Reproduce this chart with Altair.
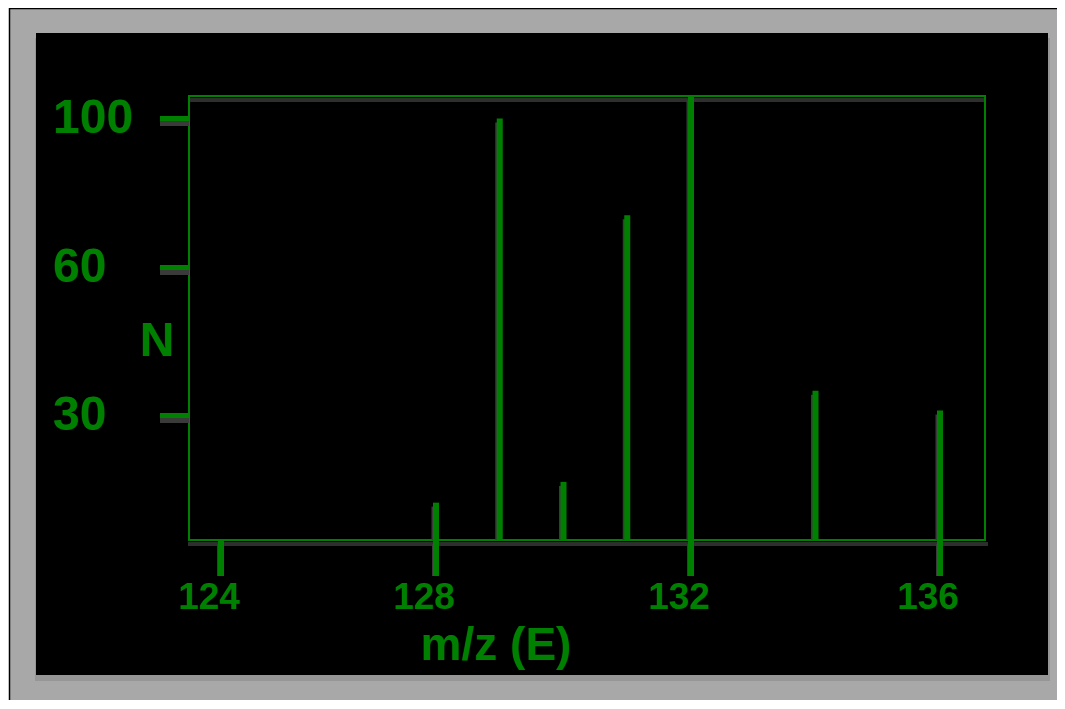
import altair as alt
import pandas as pd

# ---- data ----
mz = [128, 129, 130, 131, 132, 134, 136]
intensity = [9, 100, 14, 74, 106, 35, 31]
x_ticks = [124, 128, 132, 136]
x_tick_labels = ["124", "128", "132", "136"]
y_ticks = [30, 60, 100]
y_tick_labels = ["30", "60", "100"]

GREEN = "#008000"
SHADOW = "#3a3a3a"
FONT = "Liberation Sans"

peaks = pd.DataFrame({"mz": mz, "N": intensity})
xt = pd.DataFrame({"tick": x_ticks, "label": x_tick_labels})
yt = pd.DataFrame({"tick": y_ticks, "label": y_tick_labels})
one = pd.DataFrame({"k": [0]})

W, H = 796, 444
xscale = alt.Scale(domain=[124, 128, 132, 136], range=[32, 247, 502, 751])
yscale = alt.Scale(domain=[0, 30, 60, 100], range=[H, 319.5, 171.5, 22.5])

X = lambda f: alt.X(f, type="quantitative", scale=xscale, axis=None)
Y = lambda f: alt.Y(f, type="quantitative", scale=yscale, axis=None)

base_one = alt.Chart(one)

outer = base_one.mark_rect(fill="#a8a8a8", stroke="#000000", strokeWidth=1.5).encode(
    x=alt.value(-179.5), x2=alt.value(881), y=alt.value(-87.5), y2=alt.value(611.5))
outer_shadow = base_one.mark_rect(fill="#969696").encode(
    x=alt.value(-154), x2=alt.value(861), y=alt.value(-58), y2=alt.value(585))
inner = base_one.mark_rect(fill="#000000").encode(
    x=alt.value(-153), x2=alt.value(859), y=alt.value(-63), y2=alt.value(579))

box_shadow_top = base_one.mark_rule(color="#2e2e2e", strokeWidth=4).encode(
    x=alt.value(1), x2=alt.value(W), y=alt.value(4))
box_shadow_bottom = base_one.mark_rule(color="#2e2e2e", strokeWidth=4).encode(
    x=alt.value(-1), x2=alt.value(W + 3), y=alt.value(H + 4))
box = base_one.mark_rect(fill="transparent", stroke=GREEN, strokeWidth=2).encode(
    x=alt.value(0), x2=alt.value(W), y=alt.value(0), y2=alt.value(H))

# ticks (shadow + green)
xtick_sh = alt.Chart(xt).mark_rule(color=SHADOW, strokeWidth=6, xOffset=-1, yOffset=4).encode(
    x=X("tick"), y=alt.value(H), y2=alt.value(H + 36))
ytick_sh = alt.Chart(yt).mark_rule(color=SHADOW, strokeWidth=5, yOffset=5).encode(
    y=Y("tick"), x=alt.value(-29), x2=alt.value(0))
xtick = alt.Chart(xt).mark_rule(color=GREEN, strokeWidth=6).encode(
    x=X("tick"), y=alt.value(H), y2=alt.value(H + 36))
ytick = alt.Chart(yt).mark_rule(color=GREEN, strokeWidth=5).encode(
    y=Y("tick"), x=alt.value(-29), x2=alt.value(-1))

# stems (shadow + green)
stem_sh = alt.Chart(peaks).mark_rule(color=SHADOW, strokeWidth=6, xOffset=-1.5, yOffset=4).encode(
    x=X("mz"), y=Y("N"), y2=alt.datum(0))
stem = alt.Chart(peaks).mark_rule(color=GREEN, strokeWidth=6).encode(
    x=X("mz"), y=Y("N"), y2=alt.datum(0))

# labels
ylab = alt.Chart(yt).mark_text(align="left", baseline="middle", font=FONT, fontWeight="bold",
                               fontSize=48, color=GREEN).encode(
    y=Y("tick"), x=alt.value(-136), text="label:N")
xlab = alt.Chart(xt).mark_text(align="center", baseline="alphabetic", font=FONT, fontWeight="bold",
                               fontSize=37, color=GREEN, dx=-12).encode(
    x=X("tick"), y=alt.value(513), text="label:N")
ytitle = base_one.mark_text(align="center", baseline="alphabetic", font=FONT, fontWeight="bold",
                            fontSize=48, color=GREEN, text="N").encode(
    x=alt.value(-32), y=alt.value(260))
xtitle = base_one.mark_text(align="center", baseline="alphabetic", font=FONT, fontWeight="bold",
                            fontSize=46, color=GREEN, text="m/z (E)").encode(
    x=alt.value(307), y=alt.value(564))

chart = alt.layer(
    outer, outer_shadow, inner, box_shadow_top, box_shadow_bottom, box,
    xtick_sh, ytick_sh, stem_sh, xtick, ytick, stem,
    ylab, xlab, ytitle, xtitle,
).properties(
    width=W, height=H,
    autosize=alt.AutoSizeParams(type="none"),
    padding={"left": 181, "top": 88, "right": 72, "bottom": 160},
    background="#ffffff",
).configure_view(stroke=None)

chart.save("out.html", embed_options={"renderer": "svg", "actions": False})
